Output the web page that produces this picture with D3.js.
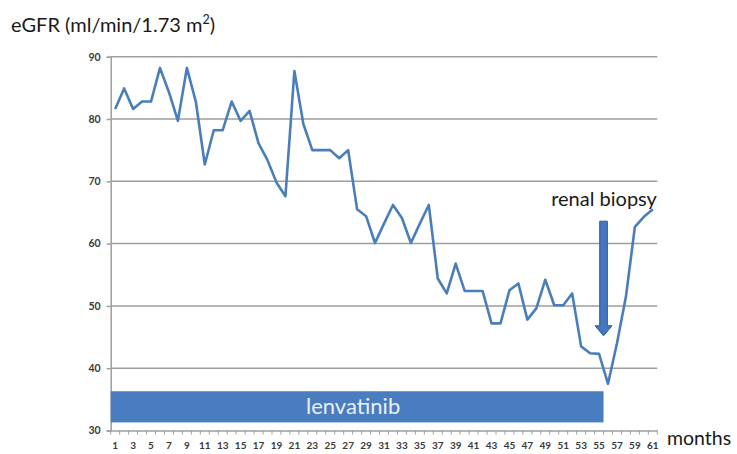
<!DOCTYPE html>
<html>
<head>
<meta charset="utf-8">
<script src="https://cdn.jsdelivr.net/npm/d3@7"></script>
<style>
  html, body { margin: 0; padding: 0; background: #ffffff; }
  svg { display: block; }
</style>
</head>
<body>
<svg id="chart" width="737" height="454"></svg>
<script>
const months = d3.range(1, 62);
const egfr = [81.6, 84.9, 81.6, 82.8, 82.8, 88.2, 84.3, 79.7, 88.2, 82.8,
              72.7, 78.2, 78.2, 82.8, 79.7, 81.3, 76.1, 73.4, 69.8, 67.6,
              87.7, 79.2, 75.0, 75.0, 75.0, 73.7, 75.0, 65.5, 64.4, 60.1,
              63.2, 66.2, 64.1, 60.1, 63.2, 66.2, 54.4, 52.0, 56.8, 52.4,
              52.4, 52.4, 47.2, 47.2, 52.5, 53.6, 47.8, 49.6, 54.2, 50.1,
              50.1, 52.0, 43.5, 42.4, 42.3, 37.5, 44.0, 51.5, 62.7, 64.3, 65.5];
const yTicks = [30, 40, 50, 60, 70, 80, 90];
const xTickLabels = months.filter(m => m % 2 === 1);
const treatment = { label: "lenvatinib", startMonth: 1, endMonth: 55, low: 31.3, high: 36.3 };
const biopsy = { label: "renal biopsy", month: 55, top: 63.6, tip: 45.2 };
const yTitle = ["eGFR (ml/min/1.73 m", "2", ")"];
const xTitle = "months";

const FONT = "Lato, 'Open Sans', sans-serif";
const svg = d3.select("#chart");
const pLeft = 110.7, pRight = 657.3, pTop = 56.7, pBottom = 430.5;

const x = d3.scaleBand().domain(months).range([pLeft, pRight]).padding(0);
const y = d3.scaleLinear().domain([30, 90]).range([pBottom, pTop]);
const bw = x.bandwidth();
const cx = m => x(m) + bw / 2;

// gridlines
svg.append("g").selectAll("line").data(yTicks.filter(t => t > 30)).join("line")
  .attr("x1", pLeft).attr("x2", pRight)
  .attr("y1", d => y(d)).attr("y2", d => y(d))
  .attr("stroke", "#9e9e9e").attr("stroke-width", 1.5);

// y axis
const yAxis = svg.append("g").attr("transform", `translate(${pLeft},0)`)
  .call(d3.axisLeft(y).tickValues(yTicks).tickSize(4).tickPadding(6));
yAxis.select(".domain").attr("stroke", "#9e9e9e").attr("stroke-width", 1.5);
yAxis.selectAll(".tick line").attr("stroke", "#9e9e9e").attr("stroke-width", 1.5);
yAxis.selectAll("text").attr("font-family", FONT).attr("font-size", 10.5)
  .attr("font-weight", "bold").attr("fill", "#3a3a3a");

// x axis
const xAxis = svg.append("g").attr("transform", `translate(0,${pBottom})`)
  .call(d3.axisBottom(x).tickValues(xTickLabels).tickSize(0).tickPadding(11));
xAxis.select(".domain").attr("stroke", "#9e9e9e").attr("stroke-width", 1.5);
xAxis.selectAll("text").attr("font-family", FONT).attr("font-size", 10)
  .attr("font-weight", "bold").attr("fill", "#3a3a3a");
// minor tick marks at category boundaries
svg.append("g").selectAll("line").data(months.concat([62])).join("line")
  .attr("x1", d => d === 62 ? pRight : x(d)).attr("x2", d => d === 62 ? pRight : x(d))
  .attr("y1", pBottom).attr("y2", pBottom + 4)
  .attr("stroke", "#9e9e9e").attr("stroke-width", 1);

// treatment bar
svg.append("rect")
  .attr("x", x(treatment.startMonth))
  .attr("y", y(treatment.high))
  .attr("width", x(treatment.endMonth) + bw - x(treatment.startMonth))
  .attr("height", y(treatment.low) - y(treatment.high))
  .attr("fill", "#4a7dbf");
svg.append("text")
  .attr("x", (x(treatment.startMonth) + x(treatment.endMonth) + bw) / 2 - 4)
  .attr("y", (y(treatment.high) + y(treatment.low)) / 2 + 7.5)
  .attr("text-anchor", "middle")
  .attr("font-family", FONT).attr("font-size", 22)
  .attr("fill", "#e8f0fb")
  .text(treatment.label);

// eGFR line
svg.append("path").datum(egfr)
  .attr("fill", "none").attr("stroke", "#4a7ebb").attr("stroke-width", 2.6)
  .attr("stroke-linejoin", "round")
  .attr("d", d3.line().x((d, i) => cx(months[i])).y(d => y(d)));

// biopsy arrow
const ax = x(biopsy.month) + bw;
const yt = y(biopsy.top), ytip = y(biopsy.tip);
const sw = 3.8, hw = 8.5, hl = 10;
svg.append("path")
  .attr("d", `M${ax - sw},${yt} L${ax + sw},${yt} L${ax + sw},${ytip - hl} L${ax + hw},${ytip - hl} L${ax},${ytip} L${ax - hw},${ytip - hl} L${ax - sw},${ytip - hl} Z`)
  .attr("fill", "#4577c0").attr("stroke", "#2c5592").attr("stroke-width", 1);
svg.append("text")
  .attr("x", ax + 0.5).attr("y", 206)
  .attr("text-anchor", "middle")
  .attr("font-family", FONT).attr("font-size", 20).attr("fill", "#1a1a1a")
  .text(biopsy.label);

// y title
const t = svg.append("text").attr("x", 11).attr("y", 32)
  .attr("font-family", FONT).attr("font-size", 20).attr("fill", "#1a1a1a");
t.append("tspan").text(yTitle[0]);
t.append("tspan").attr("font-size", 12.5).attr("dy", -8).text(yTitle[1]);
t.append("tspan").attr("dy", 8).text(yTitle[2]);

// x title
svg.append("text").attr("x", 667).attr("y", 445)
  .attr("font-family", FONT).attr("font-size", 19.5).attr("fill", "#1a1a1a")
  .text(xTitle);
</script>
</body>
</html>
